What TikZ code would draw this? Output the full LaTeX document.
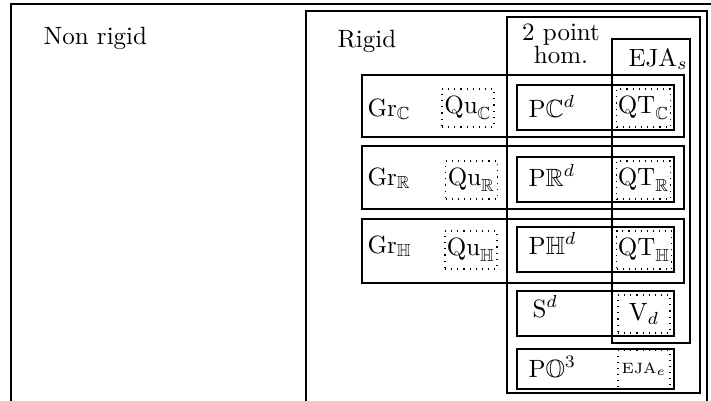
\documentclass[tikz,border=0pt]{standalone}
\usepackage{amssymb}
\begin{document}
\begin{tikzpicture}[x=0.4pt,y=-0.4pt,
  region/.style={draw=black,line width=0.45pt},
  outerregion/.style={draw=black,line width=1pt},
  lbl/.style={inner sep=0pt,anchor=base west},
  qbox/.style={draw=black,dotted,line width=0.45pt,inner sep=0.5pt,minimum width=20.8pt,minimum height=15.2pt}]
\useasboundingbox (0,0) rectangle (711,400);
\begin{scope}
\clip (0,0) rectangle (711,400);
\fill[white] (0,0) rectangle (711,400);
% regions
\draw[outerregion] (11,4) rectangle (760,460);
\draw[region,line width=0.6pt] (306,11) rectangle (707,460);
\end{scope}
\draw[region] (507,17) rectangle (700,393);
\draw[region] (612,39) rectangle (690,343);
% rows
\draw[region] (362,75) rectangle (684,137);
\draw[region] (362,146) rectangle (684,209);
\draw[region] (362,219) rectangle (684,283);
% inner P boxes
\draw[region] (517,85) rectangle (674,130);
\draw[region] (517,157) rectangle (674,202);
\draw[region] (517,227) rectangle (674,272);
\draw[region] (517,291) rectangle (674,336);
\draw[region] (517,349) rectangle (674,389);
% labels
\node[lbl] (nonrigid) at (43,44) {Non rigid};
\node[lbl] (rigid) at (337,47) {Rigid};
\node[inner sep=0pt,anchor=base,align=center] (twopt) at (561,63) {2 point\\[-3pt]hom.};
\node[lbl] (ejas) at (628,66) {$\mathrm{EJA}_s$};
% row C
\node[lbl] (grc) at (367,116) {$\mathrm{Gr}_{\mathbb{C}}$};
\node[qbox] (quc) at (468,108) {$\mathrm{Qu}_{\mathbb{C}}$};
\node[lbl] (pc) at (528,117) {$\mathrm{P}\mathbb{C}^d$};
\node[qbox] (qtc) at (643.5,108) {$\mathrm{QT}_{\mathbb{C}}$};
% row R
\node[lbl] (grr) at (367,185) {$\mathrm{Gr}_{\mathbb{R}}$};
\node[qbox] (qur) at (471.5,180) {$\mathrm{Qu}_{\mathbb{R}}$};
\node[lbl] (pr) at (528,186) {$\mathrm{P}\mathbb{R}^d$};
\node[qbox] (qtr) at (643.5,180) {$\mathrm{QT}_{\mathbb{R}}$};
% row H
\node[lbl] (grh) at (367,253) {$\mathrm{Gr}_{\mathbb{H}}$};
\node[qbox] (quh) at (471,250) {$\mathrm{Qu}_{\mathbb{H}}$};
\node[lbl] (ph) at (528,254) {$\mathrm{P}\mathbb{H}^d$};
\node[qbox] (qth) at (644,250) {$\mathrm{QT}_{\mathbb{H}}$};
% S and O
\node[lbl] (sd) at (532,317) {$\mathrm{S}^d$};
\node[qbox] (vd) at (644,314) {$\mathrm{V}_d$};
\node[lbl] (po) at (528,377) {$\mathrm{P}\mathbb{O}^3$};
\node[qbox,font=\fontsize{6}{7}\selectfont] (ejae) at (644,369.5) {$\mathrm{EJA}_e$};
\end{tikzpicture}
\end{document}
